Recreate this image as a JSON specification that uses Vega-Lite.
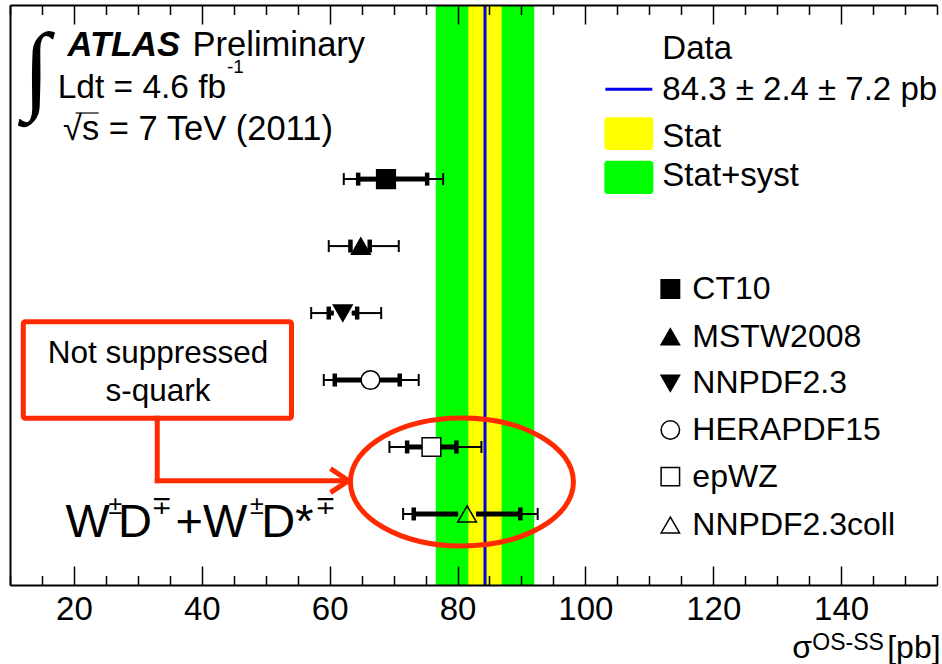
{
  "$schema": "https://vega.github.io/schema/vega-lite/v6.json",
  "width": 927,
  "height": 580,
  "autosize": {"type": "none"},
  "padding": {"left": 10, "top": 5, "right": 5, "bottom": 79},
  "background": "white",
  "config": {"view": {"stroke": null}, "font": "Liberation Sans", "axis": {"grid": false}},
  "datasets": {
    "pdfs": [
      {"name": "CT10", "pos": 6, "val": 68.81, "stat_lo": 64.46, "stat_hi": 75.25, "tot_lo": 62.21, "tot_hi": 77.75},
      {"name": "MSTW2008", "pos": 5, "val": 64.87, "stat_lo": 63.25, "stat_hi": 66.27, "tot_lo": 59.86, "tot_hi": 70.81},
      {"name": "NNPDF2.3", "pos": 4, "val": 62.05, "stat_lo": 59.86, "stat_hi": 64.3, "tot_lo": 57.11, "tot_hi": 68.06},
      {"name": "HERAPDF15", "pos": 3, "val": 66.38, "stat_lo": 60.8, "stat_hi": 70.96, "tot_lo": 59.08, "tot_hi": 73.93},
      {"name": "epWZ", "pos": 2, "val": 75.92, "stat_lo": 72.12, "stat_hi": 79.83, "tot_lo": 69.35, "tot_hi": 83.74},
      {"name": "NNPDF2.3coll", "pos": 1, "val": 81.5, "stat_lo": 73.15, "stat_hi": 89.83, "tot_lo": 71.49, "tot_hi": 92.54}
    ],
    "bands": [
      {"band": "Stat+syst", "lo": 76.6, "hi": 92.0},
      {"band": "Stat", "lo": 81.7, "hi": 86.9}
    ],
    "measured": [{"xsec": 84.3}],
    "legendPdf": [
      {"name": "CT10", "y": 4.359},
      {"name": "MSTW2008", "y": 3.647},
      {"name": "NNPDF2.3", "y": 2.951},
      {"name": "HERAPDF15", "y": 2.254},
      {"name": "epWZ", "y": 1.557},
      {"name": "NNPDF2.3coll", "y": 0.835}
    ],
    "legendBoxes": [
      {"band": "Stat", "x": 102.97, "x2": 110.63, "y": 6.435, "y2": 6.923},
      {"band": "Stat+syst", "x": 102.97, "x2": 110.63, "y": 5.778, "y2": 6.275}
    ],
    "legendLine": [{"x": 103.12, "x2": 110.47, "y": 7.341}],
    "labels": [
      {"kind": "n34", "text": "Preliminary", "x": 38.55, "y": 7.838},
      {"kind": "n33", "text": "Ldt = 4.6 fb", "x": 17.45, "y": 7.211},
      {"kind": "n34", "text": "√s = 7 TeV (2011)", "x": 18.3, "y": 6.584},
      {"kind": "atl", "text": "ATLAS", "x": 19.01, "y": 7.838},
      {"kind": "sup", "text": "-1", "x": 43.94, "y": 7.585},
      {"kind": "leg", "text": "Data", "x": 112.04, "y": 7.794},
      {"kind": "leg", "text": "84.3 ± 2.4 ± 7.2 pb", "x": 112.04, "y": 7.181},
      {"kind": "leg", "text": "Stat", "x": 112.04, "y": 6.484},
      {"kind": "leg", "text": "Stat+syst", "x": 112.04, "y": 5.902},
      {"kind": "ax", "text": "σ", "x": 132.36, "y": -1.151},
      {"kind": "ax", "text": "[pb]", "x": 147.21, "y": -1.151},
      {"kind": "axsup", "text": "OS-SS", "x": 135.49, "y": -1.031},
      {"kind": "box", "text": "Not suppressed", "x": 33.16, "y": 3.25},
      {"kind": "box", "text": "s-quark", "x": 33.16, "y": 2.691},
      {"kind": "big", "text": "W", "x": 18.7, "y": 0.656},
      {"kind": "big", "text": "D", "x": 26.9, "y": 0.656},
      {"kind": "big", "text": "+W", "x": 35.9, "y": 0.656},
      {"kind": "big", "text": "D*", "x": 49.3, "y": 0.656},
      {"kind": "bigsup", "text": "±", "x": 25.4, "y": 1.0},
      {"kind": "bigsup", "text": "∓", "x": 32.13, "y": 1.0},
      {"kind": "bigsup", "text": "±", "x": 47.55, "y": 1.0},
      {"kind": "bigsup", "text": "∓", "x": 57.73, "y": 1.0},
      {"kind": "int", "text": "∫", "x": 14.13, "y": 7.165}
    ],
    "overline": [{"x": 20.26, "x2": 23.86, "y": 6.987}],
    "noteBox": [{"x": 12.08, "x2": 54.03, "y": 2.429, "y2": 3.871}],
    "noteLines": [
      {"x": 33.03, "x2": 33.03, "y": 2.429, "y2": 1.497},
      {"x": 33.03, "x2": 62.74, "y": 1.497, "y2": 1.497}
    ],
    "arrowHead": [{"x": 61.54, "y": 1.497}],
    "ellipse": [{"x": 80.69, "y": 1.477}]
  },
  "resolve": {"axis": {"x": "independent", "y": "independent"}},
  "layer": [
    {
      "data": {"name": "bands"},
      "mark": {"type": "rect"},
      "encoding": {
        "x": {"field": "lo", "type": "quantitative", "scale": {"domain": [10, 155], "nice": false, "zero": false},
          "axis": {"orient": "bottom", "values": [10,15,20,25,30,35,40,45,50,55,60,65,70,75,80,85,90,95,100,105,110,115,120,125,130,135,140,145,150,155],
            "tickSize": {"condition": {"test": "datum.value % 20 === 0", "value": -19}, "value": -9.5},
            "tickColor": "black", "tickWidth": 1.5, "domainColor": "black", "domainWidth": 2,
            "labelExpr": "datum.value % 20 === 0 ? datum.label : ''",
            "labelFont": "Liberation Sans", "labelFontSize": 33, "labelColor": "black", "labelPadding": 27,
            "labelOverlap": false, "labelFlush": false, "labelBound": false, "title": null, "zindex": 1}},
        "x2": {"field": "hi"},
        "color": {"field": "band", "type": "nominal", "scale": {"domain": ["Stat+syst", "Stat"], "range": ["#00ff00", "#ffff00"]}, "legend": null}
      }
    },
    {
      "data": {"name": "measured"},
      "mark": {"type": "rule", "color": "#0000ee", "strokeWidth": 3},
      "encoding": {
        "x": {"field": "xsec", "type": "quantitative", "scale": {"domain": [10, 155], "nice": false, "zero": false},
          "axis": {"orient": "top", "values": [10,15,20,25,30,35,40,45,50,55,60,65,70,75,80,85,90,95,100,105,110,115,120,125,130,135,140,145,150,155],
            "tickSize": {"condition": {"test": "datum.value % 20 === 0", "value": -19}, "value": -9.5},
            "tickColor": "black", "tickWidth": 1.5, "domainColor": "black", "domainWidth": 2,
            "labels": false, "title": null, "zindex": 1}}
      }
    },
    {
      "data": {"name": "pdfs"},
      "mark": {"type": "rule", "color": "black", "strokeWidth": 2, "x2Offset": -9},
      "encoding": {
        "x": {"field": "tot_lo", "type": "quantitative", "scale": {"domain": [10, 155], "nice": false, "zero": false}, "axis": null},
        "x2": {"field": "val"},
        "y": {"field": "pos", "type": "quantitative", "scale": {"domain": [-0.061, 8.6], "nice": false, "zero": false},
          "axis": {"orient": "left", "ticks": false, "labels": false, "title": null, "domainColor": "black", "domainWidth": 2}}
      }
    },
    {
      "data": {"name": "pdfs"},
      "mark": {"type": "rule", "color": "black", "strokeWidth": 2, "xOffset": 9},
      "encoding": {
        "x": {"field": "val", "type": "quantitative", "scale": {"domain": [10, 155], "nice": false, "zero": false}, "axis": null},
        "x2": {"field": "tot_hi"},
        "y": {"field": "pos", "type": "quantitative", "scale": {"domain": [-0.061, 8.6], "nice": false, "zero": false}, "axis": null}
      }
    },
    {
      "data": {"name": "pdfs"},
      "mark": {"type": "rule", "color": "black", "strokeWidth": 5, "x2Offset": -9},
      "encoding": {
        "x": {"field": "stat_lo", "type": "quantitative", "scale": {"domain": [10, 155], "nice": false, "zero": false}, "axis": null},
        "x2": {"field": "val"},
        "y": {"field": "pos", "type": "quantitative", "scale": {"domain": [-0.061, 8.6], "nice": false, "zero": false}, "axis": null}
      }
    },
    {
      "data": {"name": "pdfs"},
      "mark": {"type": "rule", "color": "black", "strokeWidth": 5, "xOffset": 9},
      "encoding": {
        "x": {"field": "val", "type": "quantitative", "scale": {"domain": [10, 155], "nice": false, "zero": false}, "axis": null},
        "x2": {"field": "stat_hi"},
        "y": {"field": "pos", "type": "quantitative", "scale": {"domain": [-0.061, 8.6], "nice": false, "zero": false}, "axis": null}
      }
    },
    {
      "data": {"name": "pdfs"},
      "transform": [{"fold": ["tot_lo", "tot_hi"], "as": ["k", "v"]}],
      "mark": {"type": "tick", "orient": "vertical", "thickness": 2, "size": 12, "color": "black", "opacity": 1},
      "encoding": {
        "x": {"field": "v", "type": "quantitative", "scale": {"domain": [10, 155], "nice": false, "zero": false}, "axis": null},
        "y": {"field": "pos", "type": "quantitative", "scale": {"domain": [-0.061, 8.6], "nice": false, "zero": false}, "axis": null}
      }
    },
    {
      "data": {"name": "pdfs"},
      "transform": [{"fold": ["stat_lo", "stat_hi"], "as": ["k", "v"]}],
      "mark": {"type": "tick", "orient": "vertical", "thickness": 4.5, "size": 13, "color": "black", "opacity": 1},
      "encoding": {
        "x": {"field": "v", "type": "quantitative", "scale": {"domain": [10, 155], "nice": false, "zero": false}, "axis": null},
        "y": {"field": "pos", "type": "quantitative", "scale": {"domain": [-0.061, 8.6], "nice": false, "zero": false}, "axis": null}
      }
    },
    {
      "data": {"name": "pdfs"},
      "mark": {"type": "point", "filled": true, "stroke": "black", "strokeWidth": 1.5, "size": 350, "opacity": 1},
      "encoding": {
        "x": {"field": "val", "type": "quantitative", "scale": {"domain": [10, 155], "nice": false, "zero": false}, "axis": null},
        "y": {"field": "pos", "type": "quantitative", "scale": {"domain": [-0.061, 8.6], "nice": false, "zero": false}, "axis": null},
        "shape": {"field": "name", "type": "nominal", "scale": {"domain": ["CT10", "MSTW2008", "NNPDF2.3", "HERAPDF15", "epWZ", "NNPDF2.3coll"], "range": ["square", "triangle-up", "triangle-down", "circle", "square", "triangle-up"]}, "legend": null},
        "fill": {"field": "name", "type": "nominal", "scale": {"domain": ["CT10", "MSTW2008", "NNPDF2.3", "HERAPDF15", "epWZ", "NNPDF2.3coll"], "range": ["black", "black", "black", "white", "white", "transparent"]}, "legend": null}
      }
    },
    {
      "data": {"name": "legendPdf"},
      "mark": {"type": "point", "filled": true, "stroke": "black", "strokeWidth": 1.5, "size": 340, "opacity": 1},
      "encoding": {
        "x": {"datum": 113.29, "type": "quantitative", "scale": {"domain": [10, 155], "nice": false, "zero": false}, "axis": null},
        "y": {"field": "y", "type": "quantitative", "scale": {"domain": [-0.061, 8.6], "nice": false, "zero": false}, "axis": null},
        "shape": {"field": "name", "type": "nominal", "legend": null},
        "fill": {"field": "name", "type": "nominal", "legend": null}
      }
    },
    {
      "data": {"name": "legendPdf"},
      "mark": {"type": "text", "align": "left", "baseline": "middle", "fontSize": 32, "font": "Liberation Sans", "color": "black"},
      "encoding": {
        "x": {"datum": 116.73, "type": "quantitative", "scale": {"domain": [10, 155], "nice": false, "zero": false}, "axis": null},
        "y": {"field": "y", "type": "quantitative", "scale": {"domain": [-0.061, 8.6], "nice": false, "zero": false}, "axis": null},
        "text": {"field": "name"}
      }
    },
    {
      "data": {"name": "legendBoxes"},
      "mark": {"type": "rect", "cornerRadius": 3},
      "encoding": {
        "x": {"field": "x", "type": "quantitative", "scale": {"domain": [10, 155], "nice": false, "zero": false}, "axis": null},
        "x2": {"field": "x2"},
        "y": {"field": "y", "type": "quantitative", "scale": {"domain": [-0.061, 8.6], "nice": false, "zero": false}, "axis": null},
        "y2": {"field": "y2"},
        "color": {"field": "band", "type": "nominal", "legend": null}
      }
    },
    {
      "data": {"name": "legendLine"},
      "mark": {"type": "rule", "color": "#0000ee", "strokeWidth": 3},
      "encoding": {
        "x": {"field": "x", "type": "quantitative", "scale": {"domain": [10, 155], "nice": false, "zero": false}, "axis": null},
        "x2": {"field": "x2"},
        "y": {"field": "y", "type": "quantitative", "scale": {"domain": [-0.061, 8.6], "nice": false, "zero": false}, "axis": null}
      }
    },
    {
      "data": {"name": "overline"},
      "mark": {"type": "rule", "color": "black", "strokeWidth": 1.2},
      "encoding": {
        "x": {"field": "x", "type": "quantitative", "scale": {"domain": [10, 155], "nice": false, "zero": false}, "axis": null},
        "x2": {"field": "x2"},
        "y": {"field": "y", "type": "quantitative", "scale": {"domain": [-0.061, 8.6], "nice": false, "zero": false}, "axis": null}
      }
    },
    {
      "data": {"name": "labels"},
      "transform": [{"filter": "datum.kind === 'n34'"}],
      "mark": {"type": "text", "align": "left", "baseline": "alphabetic", "fontSize": 34.5, "font": "Liberation Sans", "color": "black"},
      "encoding": {
        "x": {"field": "x", "type": "quantitative", "scale": {"domain": [10, 155], "nice": false, "zero": false}, "axis": null},
        "y": {"field": "y", "type": "quantitative", "scale": {"domain": [-0.061, 8.6], "nice": false, "zero": false}, "axis": null},
        "text": {"field": "text"}
      }
    },
    {
      "data": {"name": "labels"},
      "transform": [{"filter": "datum.kind === 'n33'"}],
      "mark": {"type": "text", "align": "left", "baseline": "alphabetic", "fontSize": 33.5, "font": "Liberation Sans", "color": "black"},
      "encoding": {
        "x": {"field": "x", "type": "quantitative", "scale": {"domain": [10, 155], "nice": false, "zero": false}, "axis": null},
        "y": {"field": "y", "type": "quantitative", "scale": {"domain": [-0.061, 8.6], "nice": false, "zero": false}, "axis": null},
        "text": {"field": "text"}
      }
    },
    {
      "data": {"name": "labels"},
      "transform": [{"filter": "datum.kind === 'leg'"}],
      "mark": {"type": "text", "align": "left", "baseline": "alphabetic", "fontSize": 33, "font": "Liberation Sans", "color": "black"},
      "encoding": {
        "x": {"field": "x", "type": "quantitative", "scale": {"domain": [10, 155], "nice": false, "zero": false}, "axis": null},
        "y": {"field": "y", "type": "quantitative", "scale": {"domain": [-0.061, 8.6], "nice": false, "zero": false}, "axis": null},
        "text": {"field": "text"}
      }
    },
    {
      "data": {"name": "labels"},
      "transform": [{"filter": "datum.kind === 'atl'"}],
      "mark": {"type": "text", "align": "left", "baseline": "alphabetic", "fontSize": 34.5, "font": "Liberation Sans", "fontWeight": "bold", "fontStyle": "italic", "color": "black"},
      "encoding": {
        "x": {"field": "x", "type": "quantitative", "scale": {"domain": [10, 155], "nice": false, "zero": false}, "axis": null},
        "y": {"field": "y", "type": "quantitative", "scale": {"domain": [-0.061, 8.6], "nice": false, "zero": false}, "axis": null},
        "text": {"field": "text"}
      }
    },
    {
      "data": {"name": "labels"},
      "transform": [{"filter": "datum.kind === 'sup'"}],
      "mark": {"type": "text", "align": "left", "baseline": "alphabetic", "fontSize": 19, "font": "Liberation Sans", "color": "black"},
      "encoding": {
        "x": {"field": "x", "type": "quantitative", "scale": {"domain": [10, 155], "nice": false, "zero": false}, "axis": null},
        "y": {"field": "y", "type": "quantitative", "scale": {"domain": [-0.061, 8.6], "nice": false, "zero": false}, "axis": null},
        "text": {"field": "text"}
      }
    },
    {
      "data": {"name": "labels"},
      "transform": [{"filter": "datum.kind === 'ax'"}],
      "mark": {"type": "text", "align": "left", "baseline": "alphabetic", "fontSize": 32, "font": "Liberation Sans", "color": "black"},
      "encoding": {
        "x": {"field": "x", "type": "quantitative", "scale": {"domain": [10, 155], "nice": false, "zero": false}, "axis": null},
        "y": {"field": "y", "type": "quantitative", "scale": {"domain": [-0.061, 8.6], "nice": false, "zero": false}, "axis": null},
        "text": {"field": "text"}
      }
    },
    {
      "data": {"name": "labels"},
      "transform": [{"filter": "datum.kind === 'axsup'"}],
      "mark": {"type": "text", "align": "left", "baseline": "alphabetic", "fontSize": 23, "font": "Liberation Sans", "color": "black"},
      "encoding": {
        "x": {"field": "x", "type": "quantitative", "scale": {"domain": [10, 155], "nice": false, "zero": false}, "axis": null},
        "y": {"field": "y", "type": "quantitative", "scale": {"domain": [-0.061, 8.6], "nice": false, "zero": false}, "axis": null},
        "text": {"field": "text"}
      }
    },
    {
      "data": {"name": "labels"},
      "transform": [{"filter": "datum.kind === 'box'"}],
      "mark": {"type": "text", "align": "center", "baseline": "alphabetic", "fontSize": 31.5, "font": "Liberation Sans", "color": "black"},
      "encoding": {
        "x": {"field": "x", "type": "quantitative", "scale": {"domain": [10, 155], "nice": false, "zero": false}, "axis": null},
        "y": {"field": "y", "type": "quantitative", "scale": {"domain": [-0.061, 8.6], "nice": false, "zero": false}, "axis": null},
        "text": {"field": "text"}
      }
    },
    {
      "data": {"name": "labels"},
      "transform": [{"filter": "datum.kind === 'big'"}],
      "mark": {"type": "text", "align": "left", "baseline": "alphabetic", "fontSize": 47, "font": "Liberation Sans", "color": "black"},
      "encoding": {
        "x": {"field": "x", "type": "quantitative", "scale": {"domain": [10, 155], "nice": false, "zero": false}, "axis": null},
        "y": {"field": "y", "type": "quantitative", "scale": {"domain": [-0.061, 8.6], "nice": false, "zero": false}, "axis": null},
        "text": {"field": "text"}
      }
    },
    {
      "data": {"name": "labels"},
      "transform": [{"filter": "datum.kind === 'bigsup'"}],
      "mark": {"type": "text", "align": "left", "baseline": "alphabetic", "fontSize": 25, "font": "Liberation Sans, DejaVu Sans", "color": "black"},
      "encoding": {
        "x": {"field": "x", "type": "quantitative", "scale": {"domain": [10, 155], "nice": false, "zero": false}, "axis": null},
        "y": {"field": "y", "type": "quantitative", "scale": {"domain": [-0.061, 8.6], "nice": false, "zero": false}, "axis": null},
        "text": {"field": "text"}
      }
    },
    {
      "data": {"name": "labels"},
      "transform": [{"filter": "datum.kind === 'int'"}],
      "mark": {"type": "text", "align": "center", "baseline": "alphabetic", "fontSize": 98, "font": "DejaVu Sans", "fontWeight": 200, "color": "black"},
      "encoding": {
        "x": {"field": "x", "type": "quantitative", "scale": {"domain": [10, 155], "nice": false, "zero": false}, "axis": null},
        "y": {"field": "y", "type": "quantitative", "scale": {"domain": [-0.061, 8.6], "nice": false, "zero": false}, "axis": null},
        "text": {"field": "text"}
      }
    },
    {
      "data": {"name": "noteBox"},
      "mark": {"type": "rect", "fill": "transparent", "stroke": "#ff2a00", "strokeWidth": 5, "cornerRadius": 2},
      "encoding": {
        "x": {"field": "x", "type": "quantitative", "scale": {"domain": [10, 155], "nice": false, "zero": false}, "axis": null},
        "x2": {"field": "x2"},
        "y": {"field": "y", "type": "quantitative", "scale": {"domain": [-0.061, 8.6], "nice": false, "zero": false}, "axis": null},
        "y2": {"field": "y2"}
      }
    },
    {
      "data": {"name": "noteLines"},
      "mark": {"type": "rule", "color": "#ff2a00", "strokeWidth": 5, "strokeCap": "square"},
      "encoding": {
        "x": {"field": "x", "type": "quantitative", "scale": {"domain": [10, 155], "nice": false, "zero": false}, "axis": null},
        "x2": {"field": "x2"},
        "y": {"field": "y", "type": "quantitative", "scale": {"domain": [-0.061, 8.6], "nice": false, "zero": false}, "axis": null},
        "y2": {"field": "y2"}
      }
    },
    {
      "data": {"name": "arrowHead"},
      "mark": {"type": "point", "shape": "M -0.75 -1 L 0.75 0 L -0.75 1", "filled": false, "stroke": "#ff2a00", "strokeWidth": 5, "size": 576, "opacity": 1, "strokeJoin": "miter"},
      "encoding": {
        "x": {"field": "x", "type": "quantitative", "scale": {"domain": [10, 155], "nice": false, "zero": false}, "axis": null},
        "y": {"field": "y", "type": "quantitative", "scale": {"domain": [-0.061, 8.6], "nice": false, "zero": false}, "axis": null}
      }
    },
    {
      "data": {"name": "ellipse"},
      "mark": {"type": "point", "shape": "M -1 0 A 1 0.574 0 1 1 1 0 A 1 0.574 0 1 1 -1 0 Z", "filled": false, "stroke": "#ff2a00", "strokeWidth": 5, "size": 49729, "opacity": 1},
      "encoding": {
        "x": {"field": "x", "type": "quantitative", "scale": {"domain": [10, 155], "nice": false, "zero": false}, "axis": null},
        "y": {"field": "y", "type": "quantitative", "scale": {"domain": [-0.061, 8.6], "nice": false, "zero": false}, "axis": null}
      }
    }
  ]
}
